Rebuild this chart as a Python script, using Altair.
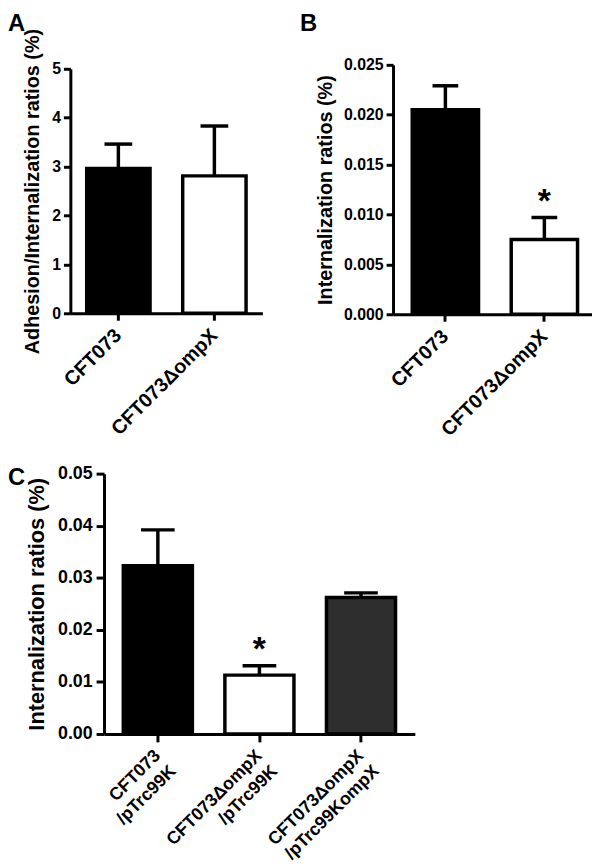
import altair as alt
import pandas as pd

FONT = "Liberation Sans"

# ---- Panel A ----
a_cats = ["CFT073", "CFT073ΔompX"]
a_mean = [2.96, 2.81]
a_upper = [3.46, 3.83]
a_fill = ["#000000", "#ffffff"]
a_star = ["", ""]
a_ticks = [0, 1, 2, 3, 4, 5]

# ---- Panel B ----
b_cats = ["CFT073", "CFT073ΔompX"]
b_mean = [0.0205, 0.0075]
b_upper = [0.0229, 0.0097]
b_fill = ["#000000", "#ffffff"]
b_star = ["", "*"]
b_ticks = [0.0, 0.005, 0.010, 0.015, 0.020, 0.025]

# ---- Panel C ----
c_cats = ["CFT073\u00a0|/pTrc99K",
          "CFT073ΔompX|/pTrc99K\u00a0\u00a0\u00a0\u00a0\u00a0",
          "CFT073ΔompX|/pTrc99KompX"]
c_mean = [0.0323, 0.0113, 0.0262]
c_upper = [0.0392, 0.0131, 0.0271]
c_fill = ["#000000", "#ffffff", "#2e2e2e"]
c_star = ["", "*", ""]
c_ticks = [0.0, 0.01, 0.02, 0.03, 0.04, 0.05]


def yaxis(title, ticks, fmt, title_size, title_pad, ytick_font, ylab_pad, tick_size):
    return alt.Axis(title=title, values=ticks, format=fmt, grid=False,
                    titleFont=FONT, titleFontWeight="bold", titleFontSize=title_size,
                    titleColor="black", titlePadding=title_pad,
                    labelFont=FONT, labelFontWeight="bold", labelFontSize=ytick_font,
                    labelColor="black", labelPadding=ylab_pad, tickSize=tick_size,
                    tickWidth=3, tickColor="black", domainWidth=3, domainColor="black")


def panel(cats, mean, upper, fills, stars, ticks, *, width, height, yrange, domain, fmt,
          title, title_size, title_pad, ytick_font, xlab_font, tick_size, ylab_pad,
          xlab_pad, pad_inner, pad_outer, band_align, cap, letter, letter_x, letter_y,
          letter_baseline, multiline=False, line_height=20):
    df = pd.DataFrame({"cat": cats, "mean": mean, "upper": upper,
                       "fill": fills, "star": stars})
    xaxis_kw = dict(title=None, labelAngle=-45, labelAlign="right", labelBaseline="middle",
                    labelFont=FONT, labelFontWeight="bold", labelFontSize=xlab_font,
                    labelColor="black", labelPadding=xlab_pad, tickSize=tick_size,
                    tickWidth=3, tickColor="black", domainWidth=3, domainColor="black",
                    labelLimit=400, labelOverlap=False)
    if multiline:
        xaxis_kw["labelExpr"] = "split(datum.label, '|')"
        xaxis_kw["labelLineHeight"] = line_height
    x = alt.X("cat:N", sort=cats,
              scale=alt.Scale(paddingInner=pad_inner, paddingOuter=pad_outer, align=band_align),
              axis=alt.Axis(**xaxis_kw))
    yscale_kw = dict(domain=domain, nice=False, zero=True)
    if yrange is not None:
        yscale_kw["range"] = yrange
    ax = yaxis(title, ticks, fmt, title_size, title_pad, ytick_font, ylab_pad, tick_size)
    y = alt.Y("mean:Q", scale=alt.Scale(**yscale_kw), axis=ax)
    yu = alt.Y("upper:Q", scale=alt.Scale(**yscale_kw), axis=ax)
    base = alt.Chart(df)
    bars = base.mark_bar(stroke="black", strokeWidth=3.5).encode(
        x=x, y=y, fill=alt.Fill("fill:N", scale=None))
    stems = base.mark_rule(color="black", strokeWidth=3.5).encode(
        x=x, y=y, y2="upper:Q")
    caps = base.mark_tick(color="black", thickness=3.5, size=cap, opacity=1).encode(
        x=x, y=yu)
    star = base.mark_text(font=FONT, fontWeight="bold", fontSize=34, baseline="alphabetic",
                          dy=-6, color="black").encode(x=x, y=yu, text="star:N")
    lab = alt.Chart(pd.DataFrame({"t": [letter]})).mark_text(
        font=FONT, fontWeight="bold", fontSize=24, align="left",
        baseline=letter_baseline, color="black").encode(
        x=alt.value(letter_x), y=alt.value(letter_y), text="t:N")
    return alt.layer(bars, stems, caps, star, lab).properties(width=width, height=height)


A = panel(a_cats, a_mean, a_upper, a_fill, a_star, a_ticks,
          width=194, height=251, yrange=[251, 4], domain=[0, 5], fmt="d",
          title="Adhesion/Internalization ratios (%)", title_size=20, title_pad=9,
          ytick_font=16, xlab_font=20, tick_size=7, ylab_pad=3, xlab_pad=12,
          pad_inner=0.34, pad_outer=0.17, band_align=0.5, cap=28,
          letter="A", letter_x=-63, letter_y=-53, letter_baseline="top")

B = panel(b_cats, b_mean, b_upper, b_fill, b_star, b_ticks,
          width=201, height=252, yrange=None, domain=[0, 0.025], fmt=".3f",
          title="Internalization ratios (%)", title_size=20, title_pad=8,
          ytick_font=16, xlab_font=20, tick_size=7, ylab_pad=3, xlab_pad=12,
          pad_inner=0.33, pad_outer=0.17, band_align=0.57, cap=26,
          letter="B", letter_x=-94, letter_y=-53, letter_baseline="top")

C = panel(c_cats, c_mean, c_upper, c_fill, c_star, c_ticks,
          width=314, height=263, yrange=None, domain=[0, 0.05], fmt=".2f",
          title="Internalization ratios (%)", title_size=22, title_pad=9,
          ytick_font=18, xlab_font=18, tick_size=8, ylab_pad=4, xlab_pad=11,
          pad_inner=0.32, pad_outer=0.19, band_align=0.5, cap=34,
          letter="C", letter_x=-97, letter_y=11, letter_baseline="alphabetic",
          multiline=True, line_height=22)

spacer = alt.Chart(pd.DataFrame({"t": [""]})).mark_text().encode(
    text="t:N").properties(width=14, height=10)

row0 = alt.hconcat(A, B, spacing=132, bounds="flush")
row1 = alt.hconcat(spacer, C, spacing=20, bounds="flush")

chart = alt.vconcat(row0, row1, spacing=25, bounds="full").properties(
    padding={"left": 0, "top": 0, "right": 0, "bottom": 0}
).configure_view(stroke=None)

chart.save("out.html", embed_options={"renderer": "svg", "actions": False})
